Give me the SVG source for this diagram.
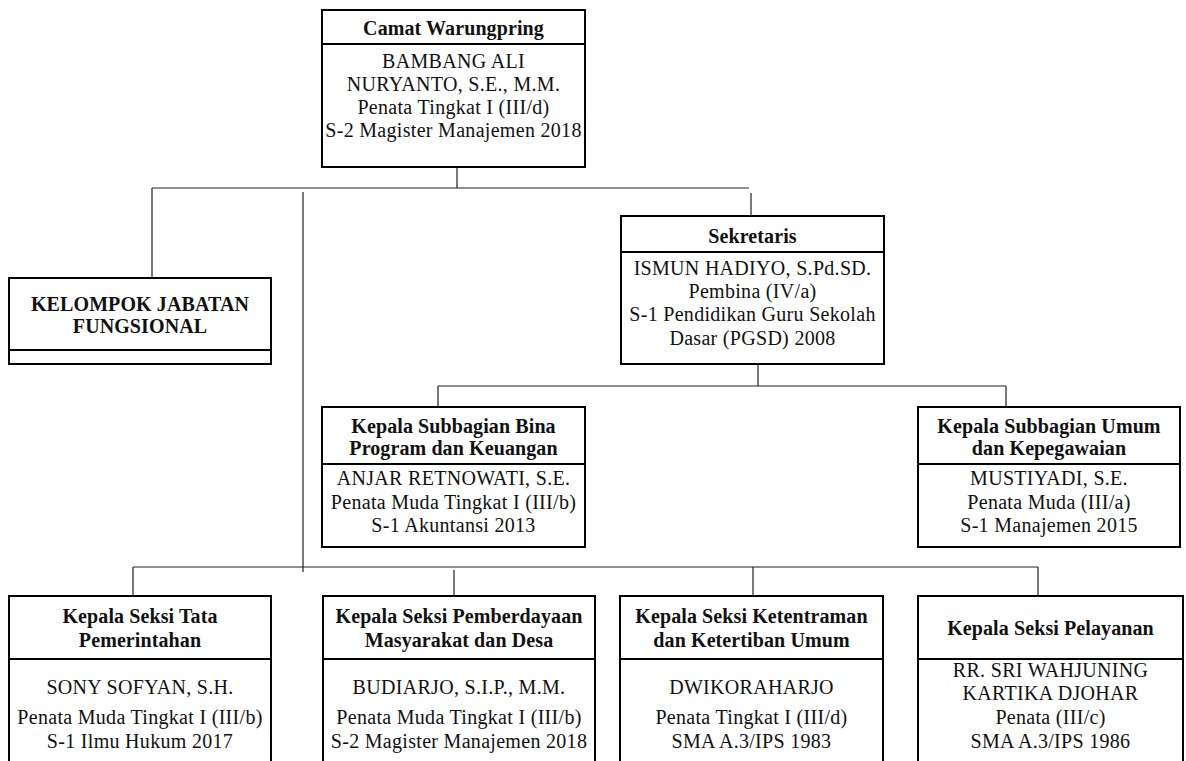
<svg xmlns="http://www.w3.org/2000/svg" width="1186" height="761" viewBox="0 0 1186 761">
<style>
.box{fill:#fff;stroke:#000;stroke-width:2}
.div{stroke:#000;stroke-width:2}
.con{stroke:#222;stroke-width:1.2;fill:none}
text{font-family:"Liberation Serif","Times New Roman",serif;font-size:20px;fill:#111;text-anchor:middle;letter-spacing:0.3px}
.b{font-weight:bold;letter-spacing:0.1px}
</style>
<rect width="1186" height="761" fill="#fff"/>
<g id="connectors">
<path class="con" d="M457 167V188M152 188H749M152 188V278M751 193V215M303 192V572"/>
<path class="con" d="M758 364V386M438 386H1006M438 386V407M1006 386V407"/>
<path class="con" d="M133 567H1038M133 567V595M454 570V596M753 567V596M1038 567V595"/>
</g>
<g id="camat">
<rect class="box" x="322" y="10" width="263" height="157"/>
<line class="div" x1="322" y1="44" x2="585" y2="44"/>
<text class="b" x="453.5" y="35">Camat Warungpring</text>
<text x="453.5" y="68">BAMBANG ALI</text>
<text x="453.5" y="91">NURYANTO, S.E., M.M.</text>
<text x="453.5" y="114">Penata Tingkat I (III/d)</text>
<text x="453.5" y="137">S-2 Magister Manajemen 2018</text>
</g>
<g id="kjf">
<rect class="box" x="9" y="278" width="262" height="86"/>
<line class="div" x1="9" y1="350" x2="271" y2="350"/>
<text class="b" x="140" y="311">KELOMPOK JABATAN</text>
<text class="b" x="140" y="333">FUNGSIONAL</text>
</g>
<g id="sekretaris">
<rect class="box" x="621" y="216" width="263" height="148"/>
<line class="div" x1="621" y1="252" x2="884" y2="252"/>
<text class="b" x="752.5" y="243">Sekretaris</text>
<text x="752.5" y="275">ISMUN HADIYO, S.Pd.SD.</text>
<text x="752.5" y="298">Pembina (IV/a)</text>
<text x="752.5" y="321">S-1 Pendidikan Guru Sekolah</text>
<text x="752.5" y="345">Dasar (PGSD) 2008</text>
</g>
<g id="subbag-bina">
<rect class="box" x="322" y="407" width="263" height="140"/>
<line class="div" x1="322" y1="464" x2="585" y2="464"/>
<text class="b" x="453.5" y="433">Kepala Subbagian Bina</text>
<text class="b" x="453.5" y="455">Program dan Keuangan</text>
<text x="453.5" y="485">ANJAR RETNOWATI, S.E.</text>
<text x="453.5" y="509">Penata Muda Tingkat I (III/b)</text>
<text x="453.5" y="532">S-1 Akuntansi 2013</text>
</g>
<g id="subbag-umum">
<rect class="box" x="918" y="407" width="262" height="140"/>
<line class="div" x1="918" y1="464" x2="1180" y2="464"/>
<text class="b" x="1049" y="433">Kepala Subbagian Umum</text>
<text class="b" x="1049" y="455">dan Kepegawaian</text>
<text x="1049" y="485">MUSTIYADI, S.E.</text>
<text x="1049" y="509">Penata Muda (III/a)</text>
<text x="1049" y="532">S-1 Manajemen 2015</text>
</g>
<g id="seksi-tapem">
<rect class="box" x="9" y="596" width="262" height="190"/>
<line class="div" x1="9" y1="659" x2="271" y2="659"/>
<text class="b" x="140" y="623">Kepala Seksi Tata</text>
<text class="b" x="140" y="647">Pemerintahan</text>
<text x="140" y="694">SONY SOFYAN, S.H.</text>
<text x="140" y="724">Penata Muda Tingkat I (III/b)</text>
<text x="140" y="748">S-1 Ilmu Hukum 2017</text>
</g>
<g id="seksi-pmd">
<rect class="box" x="323" y="596" width="272" height="190"/>
<line class="div" x1="323" y1="659" x2="595" y2="659"/>
<text class="b" x="459" y="623">Kepala Seksi Pemberdayaan</text>
<text class="b" x="459" y="647">Masyarakat dan Desa</text>
<text x="459" y="694">BUDIARJO, S.I.P., M.M.</text>
<text x="459" y="724">Penata Muda Tingkat I (III/b)</text>
<text x="459" y="748">S-2 Magister Manajemen 2018</text>
</g>
<g id="seksi-trantib">
<rect class="box" x="620" y="596" width="263" height="190"/>
<line class="div" x1="620" y1="659" x2="883" y2="659"/>
<text class="b" x="751.5" y="623">Kepala Seksi Ketentraman</text>
<text class="b" x="751.5" y="647">dan Ketertiban Umum</text>
<text x="751.5" y="694">DWIKORAHARJO</text>
<text x="751.5" y="724">Penata Tingkat I (III/d)</text>
<text x="751.5" y="748">SMA A.3/IPS 1983</text>
</g>
<g id="seksi-pelayanan">
<rect class="box" x="918" y="596" width="265" height="190"/>
<line class="div" x1="918" y1="659" x2="1183" y2="659"/>
<text class="b" x="1050.5" y="635">Kepala Seksi Pelayanan</text>
<text x="1050.5" y="677">RR. SRI WAHJUNING</text>
<text x="1050.5" y="700">KARTIKA DJOHAR</text>
<text x="1050.5" y="724">Penata (III/c)</text>
<text x="1050.5" y="748">SMA A.3/IPS 1986</text>
</g>
</svg>
